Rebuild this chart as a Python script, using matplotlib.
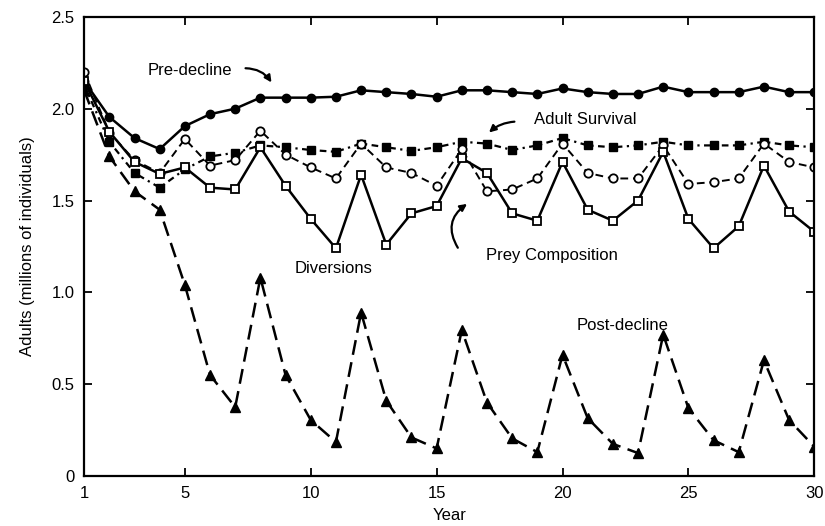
import matplotlib
matplotlib.use('Agg')
import matplotlib.pyplot as plt
import numpy as np

years = np.arange(1, 31)
pre_decline = [2.15, 1.955, 1.84, 1.78, 1.905, 1.97, 2.00, 2.06, 2.06, 2.06,
               2.065, 2.10, 2.09, 2.08, 2.065, 2.10, 2.10, 2.09, 2.08, 2.11,
               2.09, 2.08, 2.08, 2.12, 2.09, 2.09, 2.09, 2.12, 2.09, 2.09]
adult_survival = [2.13, 1.82, 1.65, 1.57, 1.67, 1.74, 1.76, 1.80, 1.79, 1.775,
                  1.765, 1.81, 1.79, 1.77, 1.79, 1.82, 1.81, 1.775, 1.80, 1.84,
                  1.80, 1.79, 1.80, 1.82, 1.80, 1.80, 1.80, 1.82, 1.80, 1.79]
prey_composition = [2.20, 1.87, 1.72, 1.65, 1.835, 1.69, 1.72, 1.88, 1.75, 1.68,
                    1.62, 1.81, 1.68, 1.65, 1.58, 1.78, 1.55, 1.56, 1.62, 1.81,
                    1.65, 1.62, 1.62, 1.80, 1.59, 1.60, 1.62, 1.81, 1.71, 1.68]
diversions = [2.15, 1.875, 1.71, 1.645, 1.68, 1.57, 1.56, 1.79, 1.58, 1.40,
              1.24, 1.64, 1.26, 1.43, 1.47, 1.73, 1.65, 1.43, 1.39, 1.71,
              1.45, 1.39, 1.50, 1.765, 1.40, 1.24, 1.36, 1.69, 1.44, 1.33]
post_decline = [2.10, 1.74, 1.55, 1.45, 1.04, 0.55, 0.375, 1.08, 0.55, 0.305,
                0.185, 0.89, 0.41, 0.21, 0.15, 0.795, 0.40, 0.205, 0.13, 0.66,
                0.315, 0.175, 0.125, 0.77, 0.37, 0.195, 0.13, 0.63, 0.305, 0.16]

xticks = [1, 5, 10, 15, 20, 25, 30]
yticks = [0, 0.5, 1.0, 1.5, 2.0, 2.5]
ytick_labels = ['0', '0.5', '1.0', '1.5', '2.0', '2.5']

plt.rcParams['font.family'] = ['Liberation Sans', 'DejaVu Sans']

fig = plt.figure(figsize=(8.25, 5.26), dpi=100)
ax = fig.add_axes([0.102, 0.095, 0.885, 0.873])

ms = 6
ax.plot(years, pre_decline, '-', color='black', lw=1.8, marker='o', ms=ms,
        mfc='black', mec='black')
ax.plot(years, adult_survival, color='black', lw=1.6, ls=(0, (3, 2, 1, 2)),
        marker='s', ms=ms, mfc='black', mec='black')
ax.plot(years, prey_composition, color='black', lw=1.4, ls=(0, (4, 2.5)),
        marker='o', ms=ms, mfc='white', mec='black', mew=1.3)
ax.plot(years, diversions, '-', color='black', lw=1.8, marker='s', ms=ms,
        mfc='white', mec='black', mew=1.3)
ax.plot(years, post_decline, color='black', lw=1.8, ls=(0, (6, 3)),
        marker='^', ms=ms + 0.5, mfc='black', mec='black')

fs = 12
ax.text(5.2, 2.21, 'Pre-decline', fontsize=fs, ha='center', va='center')
ax.annotate('', xy=(8.5, 2.13), xytext=(7.3, 2.22),
            arrowprops=dict(arrowstyle='-|>', color='black', lw=1.6,
                            connectionstyle='arc3,rad=-0.3'))
ax.text(20.9, 1.94, 'Adult Survival', fontsize=fs, ha='center', va='center')
ax.annotate('', xy=(17.0, 1.86), xytext=(18.2, 1.93),
            arrowprops=dict(arrowstyle='-|>', color='black', lw=1.6,
                            connectionstyle='arc3,rad=0.2'))
ax.text(19.6, 1.20, 'Prey Composition', fontsize=fs, ha='center', va='center')
ax.annotate('', xy=(16.3, 1.49), xytext=(15.9, 1.23),
            arrowprops=dict(arrowstyle='-|>', color='black', lw=1.6,
                            connectionstyle='arc3,rad=-0.5'))
ax.text(10.9, 1.13, 'Diversions', fontsize=fs, ha='center', va='center')
ax.text(22.4, 0.82, 'Post-decline', fontsize=fs, ha='center', va='center')

ax.set_xlim(1, 30)
ax.set_ylim(0, 2.5)
ax.set_xticks(xticks)
ax.set_yticks(yticks)
ax.set_yticklabels(ytick_labels)
ax.tick_params(direction='in', top=True, right=True, length=6, width=1.3,
               labelsize=fs, pad=7)
for s in ax.spines.values():
    s.set_linewidth(1.6)
ax.set_xlabel('Year', fontsize=fs, labelpad=5)
ax.set_ylabel('Adults (millions of individuals)', fontsize=fs, labelpad=12)

fig.savefig('out.png', dpi=100)
